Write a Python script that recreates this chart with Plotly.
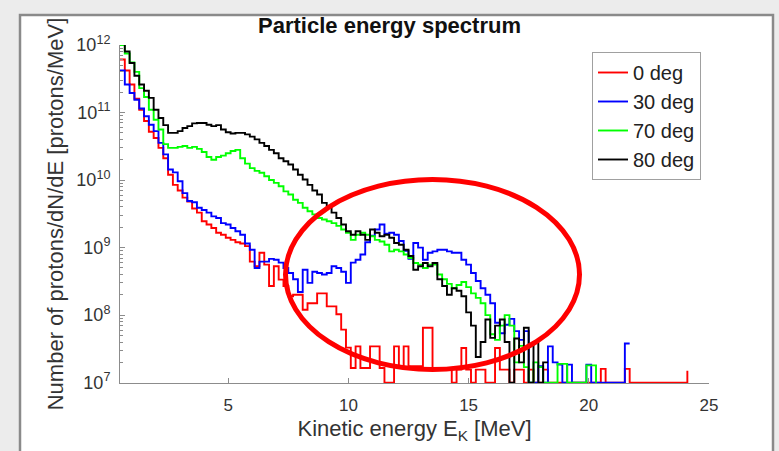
import plotly.graph_objects as go

# ---------------- data (dN/dE, protons/MeV), 0.2 MeV bins starting at 0.5 MeV ----------------
bin_start = 0.5
bin_width = 0.2

red_0deg = [6.1e11, 4.2e11, 2.6e11, 1.6e11, 1.1e11, 7.5e10, 5.2e10, 4.2e10, 3.0e10, 2.1e10,
            1.2e10, 8.5e9, 7.0e9, 5.5e9, 4.8e9, 3.8e9, 3.3e9, 2.45e9, 2.2e9, 1.95e9,
            1.66e9, 1.55e9, 1.4e9, 1.3e9, 1.2e9, 1.15e9, 1.05e9, 6.2e8, 5.3e8, 8.4e8,
            5.6e8, 2.7e8, 5.3e8, 3.35e8, 2.7e8, 1.9e8, 2.0e8, 2.0e8, 1.2e8, 1.5e8,
            1.5e8, 2.1e8, 2.1e8, 1.35e8, 1.35e8, 1.03e8, 6.1e7, 3.3e7, 1.65e7, 3.45e7,
            1.65e7, 1.65e7, 3.45e7, 3.45e7, 1.65e7, 1e7, 1e7, 3.45e7, 1.75e7, 3.45e7,
            1.75e7, 1.75e7, 1.75e7, 6.5e7, 6.5e7, 1.56e7, 1.56e7, 1.56e7, 1.56e7, 1e7,
            1.56e7, 3.26e7, 1.56e7, 1e7, 1.56e7, 1.56e7, 1e7, 1e7, 3.26e7, 1.56e7,
            1.56e7, 1e7, 1.56e7, 1.56e7, 1e7, 1.56e7, 1e7, 1e7, 1.56e7, 1e7,
            1e7, 1e7, 1e7, 1e7, 1e7, 1e7, 1e7, 1e7, 1e7, 1e7,
            1.6e7, 1e7, 1e7, 1e7, 1e7, 1.6e7, 1e7, 1e7, 1e7, 1e7,
            1e7, 1e7, 1e7, 1e7, 1e7, 1e7, 1e7, 1e7, 1.5e7]

blue_30deg = [4.2e11, 2.6e11, 1.95e11, 1.55e11, 1.15e11, 8.8e10, 6.6e10, 5.3e10, 3.55e10, 2.4e10,
              1.43e10, 1.3e10, 9.6e9, 6.4e9, 4.9e9, 4.7e9, 3.9e9, 3.6e9, 3.3e9, 2.9e9,
              2.75e9, 2.3e9, 2.2e9, 1.95e9, 1.75e9, 1.55e9, 1.15e9, 9.3e8, 5.0e8, 6.2e8,
              6.2e8, 6.8e8, 6.6e8, 6.0e8, 5.0e8, 4.2e8, 3.4e8, 2.2e8, 4.7e8, 3.0e8,
              4.4e8, 4.2e8, 4.0e8, 4.2e8, 5.3e8, 5.0e8, 4.4e8, 3.0e8, 6.0e8, 6.6e8,
              7.9e8, 1.2e9, 1.5e9, 1.85e9, 2.2e9, 1.6e9, 1.66e9, 1.55e9, 1.25e9, 9.0e8,
              6.8e8, 1.17e9, 1.0e9, 6.6e8, 8.4e8, 8.8e8, 9.3e8, 9.3e8, 8.8e8, 8.4e8,
              8.4e8, 6.6e8, 5.6e8, 4.2e8, 3.2e8, 2.5e8, 2.0e8, 1.5e8, 7.7e7, 5.4e7,
              7.2e7, 8.8e7, 5.8e7, 4.3e7, 5.8e7, 1e7, 1e7, 1.75e7, 1e7, 3.45e7,
              2e7, 1.85e7, 1e7, 1.85e7, 1e7, 1e7, 1e7, 1.85e7, 1e7, 1e7,
              1e7, 1e7, 1e7, 1e7, 1e7, 3.8e7, 3.8e7]

green_70deg = [1.0e12, 7.5e11, 5.5e11, 4.0e11, 2.3e11, 1.7e11, 1.1e11, 7.8e10, 5.6e10, 3.4e10,
               3.0e10, 3.0e10, 3.1e10, 3.2e10, 3.0e10, 3.1e10, 2.9e10, 2.6e10, 2.2e10, 2.0e10,
               2.2e10, 2.3e10, 2.5e10, 2.7e10, 2.8e10, 2.1e10, 1.75e10, 1.5e10, 1.37e10, 1.28e10,
               1.14e10, 1.0e10, 9.1e9, 8.1e9, 6.8e9, 6.1e9, 5.1e9, 4.6e9, 3.9e9, 3.45e9,
               3.1e9, 2.75e9, 2.6e9, 2.45e9, 2.3e9, 2.1e9, 1.85e9, 1.66e9, 1.3e9, 1.55e9,
               1.66e9, 1.55e9, 1.47e9, 1.3e9, 1.23e9, 1.1e9, 8.8e8, 9.3e8, 8.8e8, 7.9e8,
               7.0e8, 5.9e8, 5.6e8, 5.0e8, 5.6e8, 5.6e8, 4.0e8, 3.4e8, 2.9e8, 2.5e8,
               2.8e8, 3.1e8, 2.6e8, 2.1e8, 1.8e8, 1.5e8, 1.0e8, 5.2e7, 4.3e7, 7e7,
               1.0e8, 7e7, 2e7, 3.5e7, 1.7e7, 1e7, 2e7, 1.7e7, 1e7, 1e7,
               1e7, 1.9e7, 1.9e7, 1e7, 1e7, 1e7, 1e7, 1.8e7, 1.8e7, 1e7]

black_80deg = [1.1e12, 8.0e11, 5.4e11, 3.5e11, 2.6e11, 2.1e11, 1.65e11, 1.1e11, 8.3e10, 6.5e10,
               5.0e10, 5.0e10, 5.3e10, 5.9e10, 6.3e10, 6.9e10, 7.0e10, 7.0e10, 6.6e10, 6.3e10,
               6.5e10, 5.6e10, 5.1e10, 4.9e10, 5.0e10, 5.0e10, 4.75e10, 4.4e10, 4.0e10, 3.55e10,
               3.2e10, 2.8e10, 2.5e10, 2.1e10, 1.9e10, 1.7e10, 1.43e10, 1.2e10, 1.02e10, 8.5e9,
               7.0e9, 6.1e9, 4.6e9, 4.1e9, 3.3e9, 2.75e9, 2.2e9, 1.75e9, 1.55e9, 1.75e9,
               1.55e9, 1.3e9, 1.85e9, 1.66e9, 1.47e9, 1.55e9, 1.4e9, 1.17e9, 1.1e9, 9.3e8,
               7.5e8, 4.7e8, 5.3e8, 5.9e8, 5.3e8, 5.9e8, 3.4e8, 2.7e8, 2.0e8, 2.5e8,
               2.3e8, 1.9e8, 1.1e8, 7e7, 2.4e7, 4e7, 8.6e7, 4.6e7, 7e7, 8.6e7,
               4e7, 1e7, 4.5e7, 2e7, 6.5e7, 1e7, 4e7, 1e7, 2e7, 2e7]

series_names = ["0 deg", "30 deg", "70 deg", "80 deg"]
series_values = [red_0deg, blue_30deg, green_70deg, black_80deg]
series_colors = ["#ff0000", "#0000ff", "#00ff00", "#000000"]

x_ticks = [5, 10, 15, 20, 25]
y_exponents = [7, 8, 9, 10, 11, 12]

# ---------------- figure ----------------
W, H = 779, 451
L, R, T, B = 120, 70, 45, 68
pw, ph = W - L - R, H - T - B

def px_x(p):
    return (p - L) / pw

def px_y(p):
    return (H - B - p) / ph

fig = go.Figure()
for name, vals, col in zip(series_names, series_values, series_colors):
    xs = [round(bin_start + bin_width * i, 3) for i in range(len(vals))]
    fig.add_trace(go.Scatter(
        x=xs, y=vals, mode="lines", name=name,
        line=dict(color=col, width=1.9, shape="hv"),
        legendgroup=name,
    ))

font_family = "Liberation Sans, Arial, Helvetica, sans-serif"
axis_col = "#8c8c8c"
lab_col = "#333333"

minor_vals = [m * 10 ** e for e in range(7, 12) for m in range(2, 10)]

fig.update_layout(
    width=W, height=H,
    margin=dict(l=L, r=R, t=T, b=B, autoexpand=False),
    paper_bgcolor="#ececec",
    plot_bgcolor="white",
    font=dict(family=font_family, color=lab_col, size=17),
    title=dict(text="<b>Particle energy spectrum</b>", x=px_x(414.5), xanchor="center",
               y=1 - 25 / H, yanchor="middle",
               font=dict(size=22, color="#111111", family=font_family)),
    showlegend=True,
    legend=dict(
        x=px_x(592), y=px_y(52), xanchor="left", yanchor="top",
        bgcolor="white", bordercolor="#a0a0a0", borderwidth=1,
        font=dict(size=20, color="#222222", family=font_family),
        tracegroupgap=0, itemwidth=30,
    ),
    xaxis=dict(
        range=[0.5, 25], tickvals=x_ticks, ticktext=[str(v) for v in x_ticks],
        ticks="inside", ticklen=5, tickcolor=axis_col, showline=True, linecolor=axis_col,
        linewidth=1, showgrid=False, zeroline=False, mirror=False,
        tickfont=dict(size=17, color=lab_col), ticklabelstandoff=7,
        title=dict(text="Kinetic energy E<sub>K</sub> [MeV]", font=dict(size=22, color=lab_col),
                   standoff=6),
        automargin=False,
    ),
    yaxis=dict(
        type="log", range=[6.995, 12.0],
        tickvals=[10 ** e for e in y_exponents],
        ticktext=["10<sup>%d</sup>" % e for e in y_exponents],
        ticks="inside", ticklen=5, tickcolor=axis_col, showline=True, linecolor=axis_col,
        linewidth=1, showgrid=False, zeroline=False, mirror=False,
        tickfont=dict(size=18, color=lab_col), ticklabelstandoff=5,
        minor=dict(tickvals=minor_vals, ticks="inside", ticklen=3, tickcolor=axis_col, showgrid=False),
        title=dict(text="Number of protons/dN/dE [protons/MeV]", font=dict(size=22, color=lab_col),
                   standoff=6),
        automargin=False,
    ),
)

# slide-like white panel behind the chart
fig.add_shape(type="rect", xref="paper", yref="paper",
              x0=px_x(20), x1=px_x(773), y0=px_y(470), y1=px_y(15),
              fillcolor="white", line=dict(color="#8a8a8a", width=2.5), layer="below")

# red highlight ellipse
fig.add_shape(type="circle", xref="paper", yref="paper",
              x0=px_x(285.5), x1=px_x(579.5), y0=px_y(369.5), y1=px_y(179.5),
              line=dict(color="#ff0000", width=5), fillcolor="rgba(0,0,0,0)", layer="above")

fig.write_html("out.html")
